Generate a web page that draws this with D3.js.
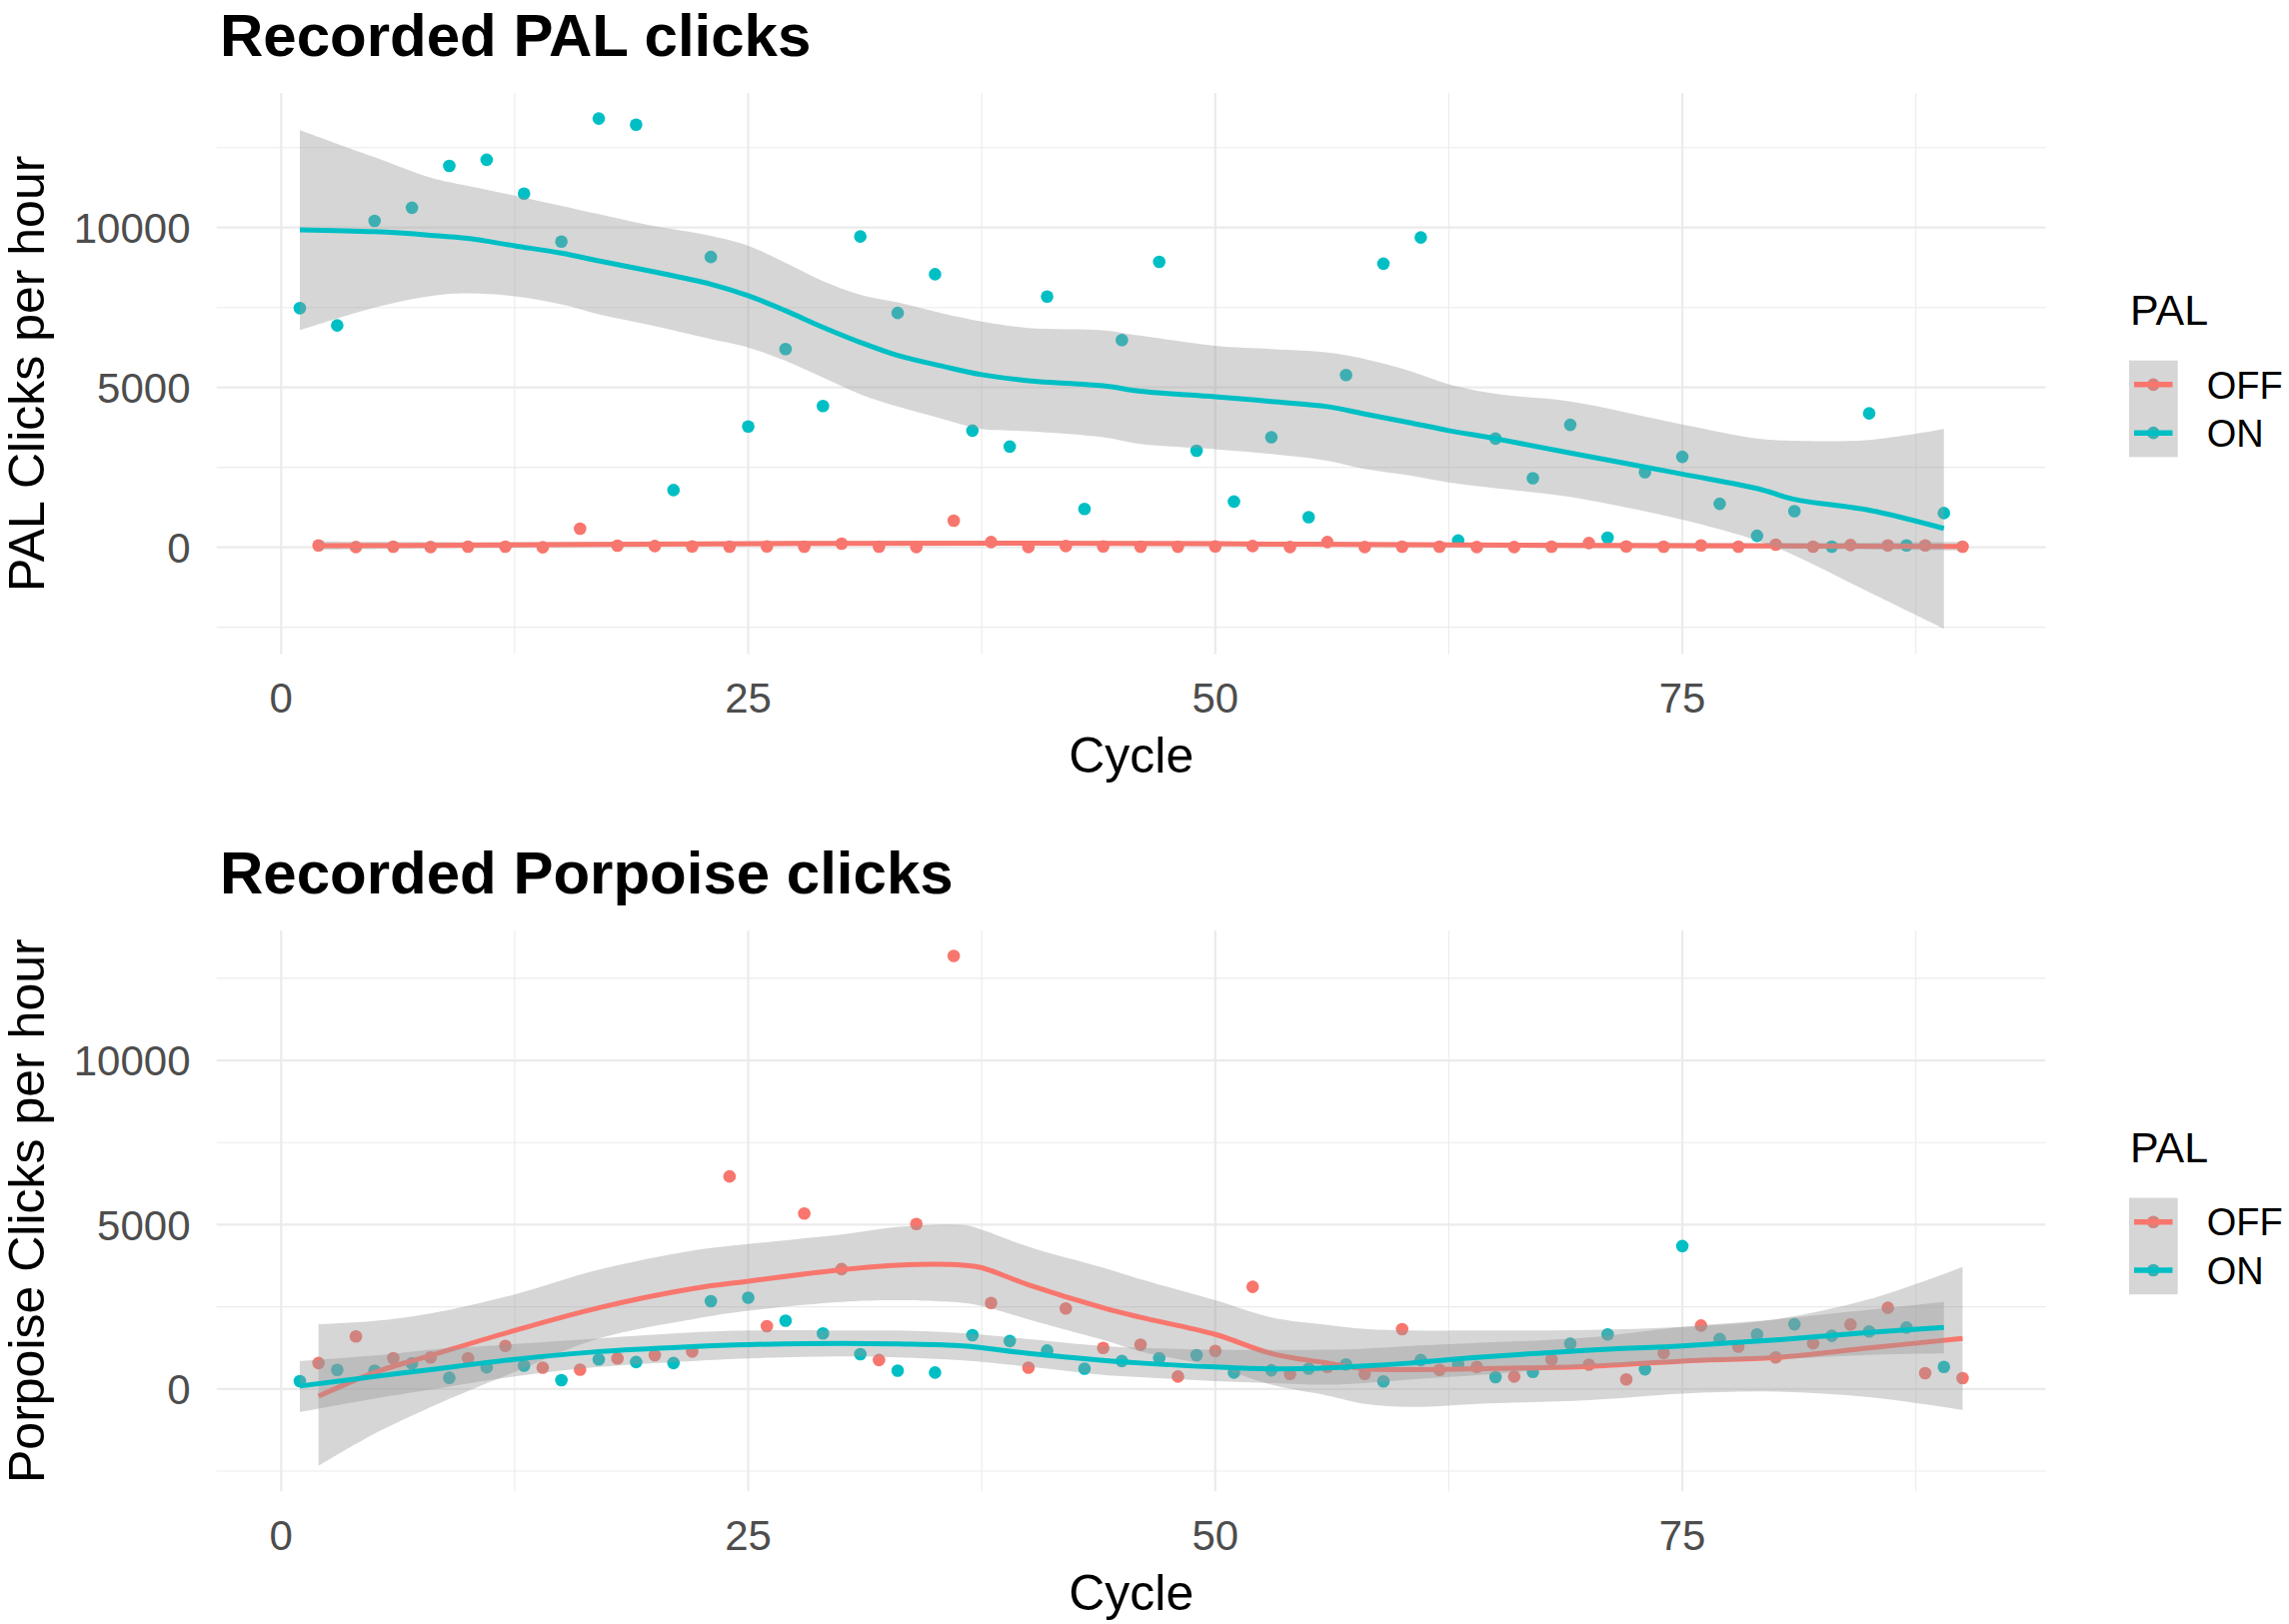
<!DOCTYPE html>
<html>
<head>
<meta charset="utf-8">
<script src="https://cdn.jsdelivr.net/npm/d3@7"></script>
<style>
  body { margin: 0; background: #fff; }
  text { font-family: "Liberation Sans", Arial, Helvetica, sans-serif; }
</style>
</head>
<body>
<svg id="chart" width="2290" height="1625"></svg>
<script>
// ---- data ----
const cyclesOff = [2,4,6,8,10,12,14,16,18,20,22,24,26,28,30,32,34,36,38,40,42,44,46,48,50,52,54,56,58,60,62,64,66,68,70,72,74,76,78,80,82,84,86,88,90];
const cyclesOn = [1,3,5,7,9,11,13,15,17,19,21,23,25,27,29,31,33,35,37,39,41,43,45,47,49,51,53,55,57,59,61,63,65,67,69,71,73,75,77,79,81,83,85,87,89];

// PAL clicks per hour
const palOff = [60,8,19,8,19,19,0,580,50,40,29,19,29,19,112,19,8,830,164,8,40,29,19,19,29,40,8,164,8,19,19,8,8,19,133,29,19,60,19,81,19,70,60,60,19];
const palOn = [7480,6940,10210,10620,11930,12120,11060,9560,13410,13220,1790,9080,3780,6200,4420,9720,7330,8540,3650,3150,7840,1200,6480,8930,3020,1430,3440,940,5390,8870,9690,210,3400,2160,3830,300,2350,2830,1360,360,1130,20,4190,60,1070];

// Porpoise clicks per hour
const porOff = [790,1600,940,960,940,1310,650,590,930,1030,1140,6470,1910,5340,3650,880,5020,13180,2620,650,2450,1250,1350,380,1160,3110,460,670,460,1820,580,670,380,900,740,290,1100,1930,1290,960,1390,1960,2470,480,330];
const porOn = [240,580,560,780,340,660,710,270,900,820,790,2670,2780,2080,1690,1060,560,500,1640,1460,1170,620,850,940,1030,500,570,620,750,230,880,750,360,520,1380,1660,600,4350,1520,1660,1970,1620,1750,1870,670];

// smoothed fits (loess) with confidence band
const palOffSmX = [2,10,20,30,40,50,60,70,80,90];
const palOffFit = [50,70,100,125,130,110,80,60,45,30];
const palOffLo  = [-80,-20,20,50,55,35,5,-20,-45,-110];
const palOffHi  = [180,160,180,200,205,185,155,140,135,170];

const palOnSmX = [1,5,8,10,12.5,15,17,19.5,23,25,27,29,31,33,35.5,37.5,40,44,46,50,53,56,58,60.5,62.5,65,69,75,79,81,85,89];
const palOnFit = [9930,9870,9760,9660,9430,9200,8960,8670,8230,7870,7400,6880,6410,6000,5650,5400,5210,5050,4880,4710,4560,4400,4170,3890,3650,3400,2950,2290,1840,1500,1160,590];
const palOnLo  = [6790,7500,7860,7940,7850,7600,7290,6980,6510,6250,5830,5310,4790,4400,4000,3700,3630,3440,3230,3070,2920,2710,2450,2240,2030,1850,1575,860,210,-250,-1400,-2540];
const palOnHi  = [13050,12200,11560,11300,11000,10680,10420,10100,9740,9430,8900,8330,7900,7660,7300,7060,6860,6790,6620,6300,6200,6090,5890,5500,5100,4800,4560,3840,3400,3330,3360,3700];

const porOffSmX = [2,5,8,12.5,17,22,25,30,33,36.5,37.5,40,44,46,50,53,56,58,60.5,64,70,75,80,85,90];
const porOffFit = [-220,500,1020,1780,2470,3050,3280,3630,3770,3770,3690,3170,2470,2180,1660,1080,790,615,590,615,690,850,960,1250,1540];
const porOffLo  = [-2340,-1360,-550,520,1540,2120,2380,2650,2700,2620,2530,2120,1490,1140,670,130,-200,-450,-545,-450,-340,-140,-80,-250,-640];
const porOffHi  = [1970,2070,2300,2880,3630,4210,4410,4700,4930,4990,4850,4330,3690,3340,2700,2180,1950,1830,1780,1780,1800,1890,2120,2730,3710];

const porOnSmX = [1,5,8,12.5,17,22,25,30,33,36.5,40,44,46,50,53,56,58,60.5,64,70,75,80,85,89];
const porOnFit = [90,380,590,900,1140,1290,1350,1390,1370,1310,1080,870,790,670,615,640,700,790,960,1180,1310,1490,1720,1870];
const porOnLo  = [-700,-290,-20,380,670,850,930,990,960,870,680,430,360,240,180,130,180,290,420,680,790,905,1040,1080];
const porOnHi  = [850,1020,1200,1370,1540,1720,1780,1780,1780,1700,1520,1310,1250,1195,1190,1195,1230,1310,1400,1570,1890,2120,2410,2650];

const xTicks = [0, 25, 50, 75];
const xMinor = [12.5, 37.5, 62.5, 87.5];
const yTicks = [0, 5000, 10000];
const yMinor = [-2500, 2500, 7500, 12500];

const groups = ["OFF", "ON"];
const colour = d3.scaleOrdinal().domain(groups).range(["#F8766D", "#00BFC4"]);

// ---- layout ----
const svg = d3.select("#chart");
const plotLeft = 216.8, plotRight = 2046.6, plotH = 561.3;

function expand(lo, hi) {
  const pad = (hi - lo) * 0.05;
  return [lo - pad, hi + pad];
}

function drawPanel(opt) {
  const top = opt.top, bottom = top + plotH;
  const g = svg.append("g");

  const allX = opt.off.x.concat(opt.on.x);
  const x = d3.scaleLinear()
    .domain(expand(d3.min(allX), d3.max(allX)))
    .range([plotLeft, plotRight]);
  const yLo = d3.min([d3.min(opt.off.y), d3.min(opt.on.y), d3.min(opt.off.lo), d3.min(opt.on.lo)]);
  const yHi = d3.max([d3.max(opt.off.y), d3.max(opt.on.y), d3.max(opt.off.hi), d3.max(opt.on.hi)]);
  const y = d3.scaleLinear().domain(expand(yLo, yHi)).range([bottom, top]);

  // grid
  g.selectAll("line.ymin").data(yMinor).join("line")
    .attr("x1", plotLeft).attr("x2", plotRight)
    .attr("y1", d => y(d)).attr("y2", d => y(d))
    .attr("stroke", "#EBEBEB").attr("stroke-width", 1.1);
  g.selectAll("line.xmin").data(xMinor).join("line")
    .attr("y1", top).attr("y2", bottom)
    .attr("x1", d => x(d)).attr("x2", d => x(d))
    .attr("stroke", "#EBEBEB").attr("stroke-width", 1.1);
  g.selectAll("line.ymaj").data(yTicks).join("line")
    .attr("x1", plotLeft).attr("x2", plotRight)
    .attr("y1", d => y(d)).attr("y2", d => y(d))
    .attr("stroke", "#EBEBEB").attr("stroke-width", 2.2);
  g.selectAll("line.xmaj").data(xTicks).join("line")
    .attr("y1", top).attr("y2", bottom)
    .attr("x1", d => x(d)).attr("x2", d => x(d))
    .attr("stroke", "#EBEBEB").attr("stroke-width", 2.2);

  // points
  let pts = [];
  opt.off.x.forEach((c, i) => pts.push({ c: c, v: opt.off.y[i], k: "OFF" }));
  opt.on.x.forEach((c, i) => pts.push({ c: c, v: opt.on.y[i], k: "ON" }));
  pts.sort((a, b) => a.c - b.c);
  g.append("g").selectAll("circle").data(pts).join("circle")
    .attr("cx", d => x(d.c))
    .attr("cy", d => y(d.v))
    .attr("r", 6.3)
    .attr("fill", d => colour(d.k));

  // smooths: ribbon then line, per group
  const area = d3.area().curve(d3.curveCatmullRom)
    .x(d => x(d.x)).y0(d => y(d.lo)).y1(d => y(d.hi));
  const line = d3.line().curve(d3.curveCatmullRom)
    .x(d => x(d.x)).y(d => y(d.f));
  [["OFF", opt.off], ["ON", opt.on]].forEach(([k, s]) => {
    const rows = s.sx.map((v, i) => ({ x: v, f: s.fit[i], lo: s.lo[i], hi: s.hi[i] }));
    g.append("path").datum(rows)
      .attr("d", area)
      .attr("fill", "#999999").attr("fill-opacity", 0.4);
    g.append("path").datum(rows)
      .attr("d", line)
      .attr("fill", "none")
      .attr("stroke", colour(k)).attr("stroke-width", 5);
  });

  // axis labels
  g.selectAll("text.xt").data(xTicks).join("text")
    .attr("x", d => x(d)).attr("y", bottom + 58.6)
    .attr("text-anchor", "middle")
    .attr("font-size", 42).attr("fill", "#4D4D4D")
    .text(d => d);
  g.selectAll("text.yt").data(yTicks).join("text")
    .attr("x", 190.5).attr("y", d => y(d)).attr("dy", "0.36em")
    .attr("text-anchor", "end")
    .attr("font-size", 42).attr("fill", "#4D4D4D")
    .text(d => d);

  g.append("text")
    .attr("x", (plotLeft + plotRight) / 2).attr("y", bottom + 118.6)
    .attr("text-anchor", "middle").attr("font-size", 50).attr("fill", "#000")
    .text("Cycle");
  g.append("text")
    .attr("transform", `translate(44.4,${(top + bottom) / 2}) rotate(-90)`)
    .attr("text-anchor", "middle").attr("font-size", 50).attr("fill", "#000")
    .text(opt.ytitle);
  g.append("text")
    .attr("x", 220).attr("y", top - 37)
    .attr("font-size", 60).attr("font-weight", "bold").attr("fill", "#000")
    .text(opt.title);

  // legend
  const lg = g.append("g").attr("transform", `translate(2130,${top})`);
  lg.append("text").attr("x", 1).attr("y", 232.2)
    .attr("font-size", 43).attr("fill", "#000").text("PAL");
  const keyTop = 267.6, keyH = 96.6;
  const keyY = d3.scaleBand().domain(groups).range([keyTop, keyTop + keyH]);
  groups.forEach(k => {
    const cy = keyY(k) + keyY.bandwidth() / 2;
    lg.append("circle").attr("cx", 24.3).attr("cy", cy).attr("r", 6.3).attr("fill", colour(k));
  });
  lg.append("rect").attr("x", 0).attr("y", keyTop)
    .attr("width", 48.7).attr("height", keyH)
    .attr("fill", "#999999").attr("fill-opacity", 0.4);
  groups.forEach(k => {
    const cy = keyY(k) + keyY.bandwidth() / 2;
    lg.append("line").attr("x1", 5).attr("x2", 43.5).attr("y1", cy).attr("y2", cy)
      .attr("stroke", colour(k)).attr("stroke-width", 5.5);
    lg.append("text").attr("x", 77.7).attr("y", cy).attr("dy", "0.36em")
      .attr("font-size", 38).attr("fill", "#000").text(k);
  });
}

drawPanel({
  top: 93.1,
  title: "Recorded PAL clicks",
  ytitle: "PAL Clicks per hour",
  off: { x: cyclesOff, y: palOff, sx: palOffSmX, fit: palOffFit, lo: palOffLo, hi: palOffHi },
  on: { x: cyclesOn, y: palOn, sx: palOnSmX, fit: palOnFit, lo: palOnLo, hi: palOnHi }
});

drawPanel({
  top: 931,
  title: "Recorded Porpoise clicks",
  ytitle: "Porpoise Clicks per hour",
  off: { x: cyclesOff, y: porOff, sx: porOffSmX, fit: porOffFit, lo: porOffLo, hi: porOffHi },
  on: { x: cyclesOn, y: porOn, sx: porOnSmX, fit: porOnFit, lo: porOnLo, hi: porOnHi }
});
</script>
</body>
</html>
